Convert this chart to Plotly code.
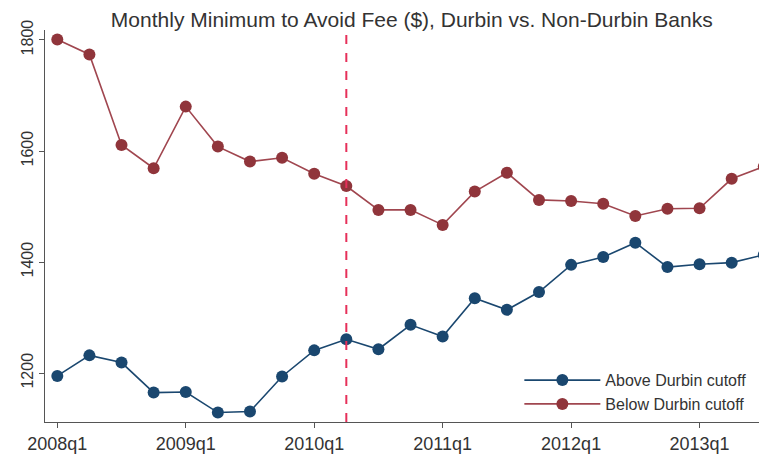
import plotly.graph_objects as go

quarters = ["2008q1","2008q2","2008q3","2008q4","2009q1","2009q2","2009q3","2009q4",
            "2010q1","2010q2","2010q3","2010q4","2011q1","2011q2","2011q3","2011q4",
            "2012q1","2012q2","2012q3","2012q4","2013q1","2013q2","2013q3"]
above = [1195,1232,1219,1165,1166,1129,1131,1194,1241,1261,1243,1287,1266,1335,1314,1346,
         1395,1409,1435,1391,1396,1399,1413]
below = [1801,1774,1611,1569,1680,1608,1581,1588,1559,1537,1494,1494,1467,1527,1561,1512,
         1510,1505,1483,1496,1497,1550,1572]
tick_labels = ["2008q1","2009q1","2010q1","2011q1","2012q1","2013q1"]
y_ticks = [1200, 1400, 1600, 1800]
cutoff_q = "2010q2"

idx = list(range(len(quarters)))
tick_idx = [quarters.index(t) for t in tick_labels]
cut_idx = quarters.index(cutoff_q)

BLUE = "#1a476f"
RED = "#90353b"

fig = go.Figure()
fig.add_trace(go.Scatter(x=idx, y=above, mode="lines+markers", name="Above Durbin cutoff",
                         line=dict(color=BLUE, width=1.6), marker=dict(color=BLUE, size=12),
                         cliponaxis=False))
fig.add_trace(go.Scatter(x=idx, y=below, mode="lines+markers", name="Below Durbin cutoff",
                         line=dict(color="#a0464f", width=1.6), marker=dict(color=RED, size=12),
                         cliponaxis=False))
fig.add_shape(type="line", x0=cut_idx, x1=cut_idx, y0=0, y1=1, xref="x", yref="paper",
              line=dict(color="#e6305a", width=2, dash="dash"))

fig.update_layout(
    width=759, height=449,
    margin=dict(l=37, r=0, t=22, b=35, autoexpand=False),
    paper_bgcolor="white", plot_bgcolor="white",
    font=dict(family="Liberation Sans, Arial, sans-serif", color="#333333"),
    title=dict(text="Monthly Minimum to Avoid Fee ($), Durbin vs. Non-Durbin Banks",
               x=0.532, xanchor="center", y=0.974, yanchor="middle",
               font=dict(size=21, color="#333333")),
    showlegend=True,
    legend=dict(x=0.657, y=0.15, xanchor="left", yanchor="top", bgcolor="rgba(0,0,0,0)",
                font=dict(size=16, color="#333333"), itemwidth=76, tracegroupgap=0),
    xaxis=dict(range=[-0.383, 22.1], tickvals=tick_idx, ticktext=tick_labels, automargin=False,
               showgrid=False, zeroline=False, showline=True, linecolor="#555555", linewidth=1,
               ticks="outside", ticklen=5, tickcolor="#555555",
               tickfont=dict(size=18, color="#333333")),
    yaxis=dict(range=[1112, 1818], tickvals=y_ticks, tickangle=-90, automargin=False,
               showgrid=False, zeroline=False, showline=True, linecolor="#555555", linewidth=1,
               ticks="outside", ticklen=5, tickcolor="#555555",
               tickfont=dict(size=16, color="#333333")),
)

fig.write_html("out.html")
